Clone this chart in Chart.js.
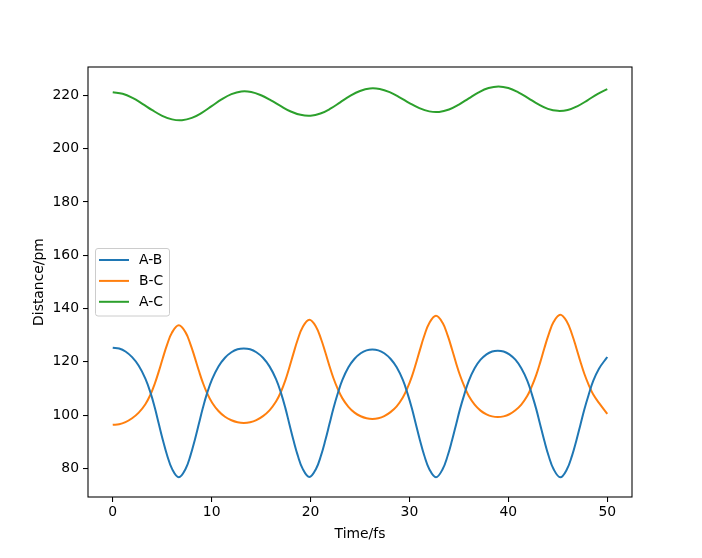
<!DOCTYPE html>
<html>
<head>
<meta charset="utf-8">
<script src="https://cdn.jsdelivr.net/npm/chart.js@4/dist/chart.umd.min.js"></script>
<style>
html,body{margin:0;padding:0;background:#fff;}
#c{display:block;}
</style>
</head>
<body>
<canvas id="c" width="702" height="558"></canvas>
<script>
// time points (fs) for the A-B and B-C series
const times = [0,0.65,1.29,1.96,2.63,3.30,3.81,4.25,4.65,5.06,5.49,6.01,6.68,
  7.35,7.87,8.30,8.71,9.11,9.55,10.05,10.69,11.35,12.00,12.62,13.25,
  13.89,14.52,15.19,15.85,16.51,17.01,17.45,17.85,18.26,18.69,19.21,19.88,
  20.55,21.07,21.50,21.91,22.31,22.75,23.22,23.83,24.45,25.07,25.66,26.25,
  26.85,27.45,28.08,28.71,29.33,29.81,30.25,30.65,31.06,31.49,32.01,32.68,
  33.35,33.87,34.30,34.71,35.11,35.55,36.00,36.59,37.19,37.79,38.36,38.93,
  39.52,40.10,40.71,41.31,41.92,42.38,42.82,43.22,43.63,44.06,44.58,45.25,
  45.92,46.44,46.87,47.28,47.68,48.12,48.57,49.16,50];
const abDist = [125.3,125.0,123.89,121.75,118.54,113.73,108.53,102.85,96.87,90.79,85.06,79.76,76.7,
  79.74,85.01,90.71,96.74,102.69,108.34,113.5,118.29,121.55,123.6,124.7,125.0,
  124.7,123.6,121.55,118.3,113.53,108.37,102.73,96.8,90.78,85.09,79.84,76.8,
  79.81,85.02,90.66,96.64,102.52,108.11,113.22,117.96,121.15,123.21,124.3,124.6,
  124.3,123.21,121.15,117.94,113.2,108.07,102.47,96.58,90.59,84.94,79.72,76.7,
  79.69,84.87,90.48,96.41,102.26,107.81,112.9,117.6,120.8,122.82,123.9,124.2,
  123.9,122.82,120.8,117.6,112.9,107.81,102.26,96.41,90.48,84.87,79.69,76.7,
  79.68,84.84,90.42,96.33,102.15,107.68,112.74,117.43,121.8];
const bcDist = [96.4,96.6,97.41,98.85,100.95,104.12,107.66,111.77,116.32,121.35,126.35,131.09,133.7,
  131.14,126.49,121.59,116.64,112.18,108.15,104.68,101.57,99.4,98.09,97.35,97.1,
  97.35,98.14,99.65,101.82,105.11,108.79,113.04,117.77,122.99,128.18,133.09,135.8,
  133.2,128.47,123.49,118.46,113.93,109.83,106.3,103.14,100.95,99.6,98.85,98.6,
  98.85,99.64,101.15,103.32,106.61,110.29,114.54,119.27,124.49,129.68,134.59,137.3,
  134.64,129.81,124.72,119.59,114.96,110.78,107.17,103.94,101.7,100.33,99.55,99.3,
  99.55,100.34,101.85,103.98,107.25,110.9,115.12,119.81,125.0,130.14,135.01,137.7,
  135.06,130.27,125.22,120.13,115.53,111.39,107.8,104.6,100.5];
// time points (fs) for the A-C series
const acTimes = [0,1,2,3,4,5,6,7,8,9,10,11,12,13,14,15,16,17,18,19,20,
  21,22,23,24,25,26,27,28,29,30,31,32,33,34,35,36,37,38,39,40,
  41,42,43,44,45,46,47,48,49,50];
const acDist = [221.1,220.55,219.0,216.8,214.4,212.3,210.95,210.65,211.5,213.4,215.9,
  218.45,220.45,221.45,221.25,220.0,218.1,215.9,213.9,212.65,212.35,
  213.15,214.95,217.35,219.75,221.6,222.55,222.35,221.15,219.25,217.05,
  215.15,213.95,213.75,214.65,216.5,218.85,221.1,222.7,223.3,222.7,
  221.1,218.95,216.65,214.9,214.15,214.5,215.95,218.1,220.45,222.3];
const seriesLabels = ['A-B','B-C','A-C'];
const seriesColors = ['#1f77b4','#ff7f0e','#2ca02c'];
const xTicks = [0,10,20,30,40,50];
const yTicks = [80,100,120,140,160,180,200,220];
const xTitle = 'Time/fs';
const yTitle = 'Distance/pm';

const FONT = '13.9px "DejaVu Sans"';
const toXY = (xs, ys) => ys.map((v,i)=>({x:xs[i], y:v}));

const framePlugin = {
  id:'frame',
  afterDraw(chart){
    const {ctx, chartArea:a} = chart;
    ctx.save();
    ctx.strokeStyle = '#000';
    ctx.lineWidth = 1.07;
    ctx.strokeRect(a.left, a.top, a.right-a.left, a.bottom-a.top);
    // legend
    const lx = 95.5, ly = 248.5, lw = 74, lh = 67.5;
    ctx.beginPath();
    if (ctx.roundRect) ctx.roundRect(lx, ly, lw, lh, 2.5); else ctx.rect(lx, ly, lw, lh);
    ctx.fillStyle = 'rgba(255,255,255,0.8)';
    ctx.fill();
    ctx.strokeStyle = '#cccccc';
    ctx.lineWidth = 1;
    ctx.stroke();
    ctx.font = FONT;
    ctx.textBaseline = 'middle';
    ctx.textAlign = 'left';
    chart.data.datasets.forEach((ds, i) => {
      const y = 260 + i*20.9;
      ctx.strokeStyle = ds.borderColor;
      ctx.lineWidth = 2;
      ctx.beginPath();
      ctx.moveTo(99, y);
      ctx.lineTo(129, y);
      ctx.stroke();
      ctx.fillStyle = '#000';
      ctx.fillText(ds.label, 139, y + 0.5);
    });
    // axis titles
    ctx.fillStyle = '#000';
    ctx.textAlign = 'center';
    ctx.textBaseline = 'alphabetic';
    ctx.fillText(xTitle, (a.left + a.right)/2, 538);
    ctx.translate(42.7, (a.top + a.bottom)/2);
    ctx.rotate(-Math.PI/2);
    ctx.fillText(yTitle, 0, 0);
    ctx.restore();
  }
};

const seriesData = [toXY(times, abDist), toXY(times, bcDist), toXY(acTimes, acDist)];

new Chart(document.getElementById('c'), {
  type: 'line',
  data: {
    datasets: seriesData.map((d, i) => ({
      label: seriesLabels[i],
      data: d,
      borderColor: seriesColors[i],
      backgroundColor: seriesColors[i],
      borderWidth: 2,
      pointRadius: 0,
      fill: false,
      cubicInterpolationMode: 'default',
      tension: 0.4
    }))
  },
  options: {
    responsive: false,
    animation: false,
    devicePixelRatio: 1,
    layout: { padding: { top: 67, right: 70, left: 0, bottom: 0 } },
    plugins: { legend: { display: false }, tooltip: { enabled: false } },
    scales: {
      x: {
        type: 'linear',
        min: -2.5, max: 52.5,
        afterBuildTicks: s => { s.ticks = xTicks.map(v => ({value: v})); },
        afterFit: s => { s.height = 61; },
        ticks: { color: '#000', font: { family: 'DejaVu Sans', size: 13.9 }, padding: 2, maxRotation: 0, autoSkip: false },
        grid: { display: true, drawOnChartArea: false, drawTicks: true, tickLength: 5, color: '#000', lineWidth: 1.07 },
        border: { display: false }
      },
      y: {
        type: 'linear',
        min: 69.3, max: 230.6,
        afterBuildTicks: s => { s.ticks = yTicks.map(v => ({value: v})); },
        afterFit: s => { s.width = 88; },
        ticks: { color: '#000', font: { family: 'DejaVu Sans', size: 13.9 }, padding: 4, autoSkip: false },
        grid: { display: true, drawOnChartArea: false, drawTicks: true, tickLength: 5, color: '#000', lineWidth: 1.07 },
        border: { display: false }
      }
    }
  },
  plugins: [framePlugin]
});
</script>
</body>
</html>
